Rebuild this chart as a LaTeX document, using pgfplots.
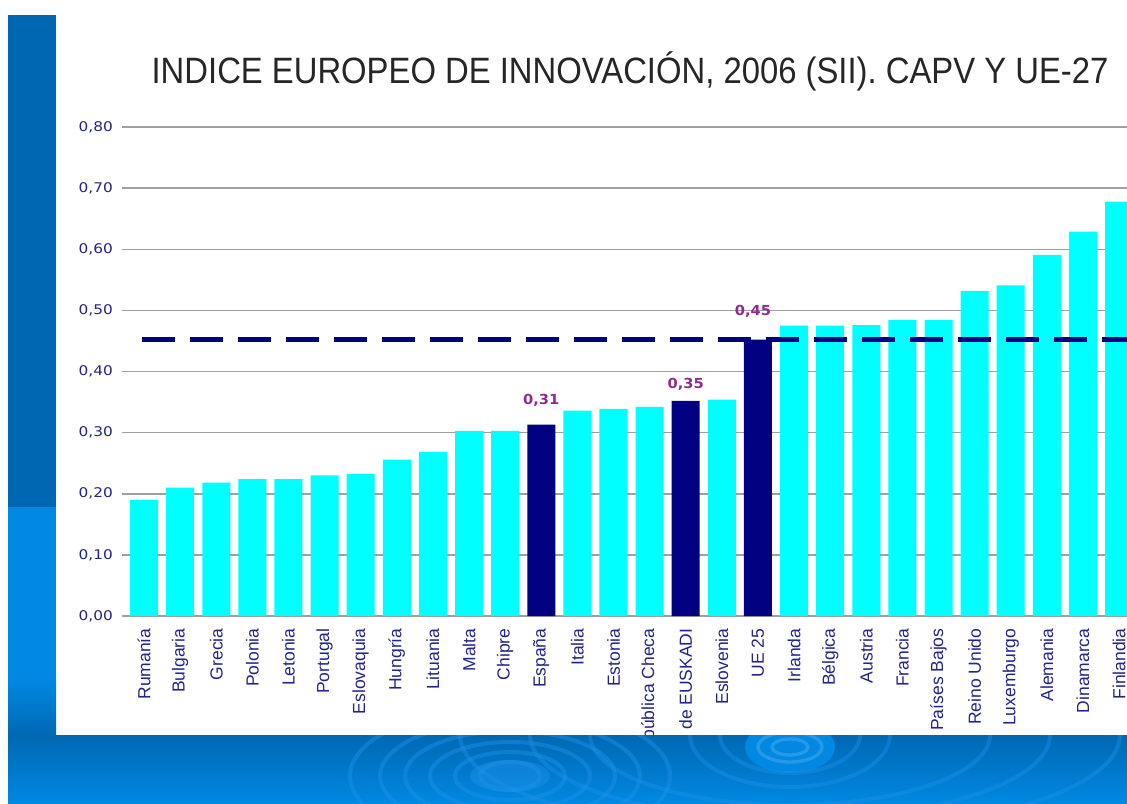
\documentclass[border=0pt]{standalone}
\usepackage{pgfplots}
\pgfplotsset{compat=1.18}
\usepackage{pgfplotstable}
\usepackage{fontspec}
\setmainfont{Liberation Sans}
\newfontfamily\titlefont[FakeStretch=0.895]{Liberation Sans}
\newfontfamily\tickfont[FakeStretch=1.15]{DejaVu Sans}
\newfontfamily\valfont[FakeStretch=1.06]{DejaVu Sans}

\definecolor{barcyan}{HTML}{00FFFF}
\definecolor{barnavy}{HTML}{000080}
\definecolor{ticknavy}{HTML}{24248A}
\definecolor{vallab}{HTML}{8E2C8E}
\definecolor{gridgray}{HTML}{A0A0A0}
\definecolor{stripdark}{HTML}{0068B2}
\definecolor{striplight}{HTML}{0088E2}
\definecolor{ringblue}{HTML}{1E92EA}

\pgfplotstableread{
x y
0 0.190
1 0.210
2 0.218
3 0.224
4 0.224
5 0.230
6 0.232
7 0.256
8 0.268
9 0.303
10 0.303
12 0.336
13 0.339
14 0.342
16 0.354
18 0.475
19 0.475
20 0.476
21 0.484
22 0.484
23 0.532
24 0.541
25 0.591
26 0.629
27 0.678
}\cyandata

\pgfplotstableread{
x y lab dx dy
11 0.313 0,31 0 10.8
15 0.352 0,35 0 6
17 0.452 0,45 -3 13.2
}\navydata

\begin{document}
\begin{tikzpicture}
\useasboundingbox (0,0) rectangle (676.2pt,481.8pt);
\clip (0,0) rectangle (676.2pt,481.8pt);
\fill[white] (0,0) rectangle (676.2pt,481.8pt);
\begin{scope}[x=0.6pt, y=-0.6pt, shift={(0pt,481.8pt)}]
  \fill[stripdark] (8,15) rectangle (56,507);
  \fill[striplight] (8,507) rectangle (56,680);
  \shade[top color=striplight, bottom color=stripdark] (8,680) rectangle (56,736);
\end{scope}

\begin{axis}[
  at={(73.2pt,112.2pt)}, anchor=south west,
  scale only axis, width=603pt, height=293.4pt,
  xmin=-0.61, xmax=27.22, ymin=0, ymax=0.8,
  axis line style={draw=none},
  major tick length=0pt,
  ytick={0,0.1,0.2,0.3,0.4,0.5,0.6,0.7,0.8},
  scaled y ticks=false,
  ymajorgrids,
  major grid style={gridgray, line width=0.9pt},
  xtick={0,1,...,27},
  xticklabels={Rumanía,Bulgaria,Grecia,Polonia,Letonia,Portugal,Eslovaquia,Hungría,Lituania,Malta,Chipre,España,Italia,Estonia,República Checa,C.A. de EUSKADI,Eslovenia,UE 25,Irlanda,Bélgica,Austria,Francia,Países Bajos,Reino Unido,Luxemburgo,Alemania,Dinamarca,Finlandia},
  xticklabel style={rotate=90, anchor=east, font=\fontsize{10.5}{12}\selectfont, text=ticknavy},
  xticklabel shift=4pt,
  yticklabel style={font=\tickfont\fontsize{8}{10}\selectfont, text=ticknavy,
    /pgf/number format/.cd, use comma, fixed, fixed zerofill, precision=2, assume math mode=true},
  yticklabel shift=2pt,
]
\addplot[ybar, bar width=16.8pt, bar shift=0pt, fill=barcyan, draw=none] table[x=x,y=y] {\cyandata};
\addplot[ybar, bar width=16.8pt, bar shift=0pt, fill=barnavy, draw=none,
  point meta=explicit symbolic,
  visualization depends on={\thisrow{dx} \as \ldx},
  visualization depends on={\thisrow{dy} \as \ldy},
  nodes near coords,
  every node near coord/.append style={anchor=south, inner sep=0pt, xshift=\ldx pt, yshift=\ldy pt,
    text=vallab, font=\valfont\bfseries\fontsize{8.3}{10}\selectfont}]
  table[x=x,y=y,meta=lab] {\navydata};
\addplot[barnavy, line width=3pt, dash pattern=on 19.8pt off 9pt] coordinates {(-0.056,0.453) (27.6,0.453)};
\end{axis}

\begin{scope}[x=0.6pt, y=-0.6pt, shift={(0pt,481.8pt)}]
  \shade[top color=stripdark, bottom color=striplight] (8,735) rectangle (1127,803);
  \begin{scope}
    \clip (8,735) rectangle (1127,803);
    \foreach \r/\s in {30/14,55/24,80/34,105/45,130/56,160/70}{
      \draw[ringblue, line width=2.4pt, opacity=0.45] (510,776) ellipse ({\r} and {\s});
    }
    \fill[ringblue, opacity=0.45] (510,776) ellipse (40 and 16);
    \fill[striplight] (790,747) ellipse (45 and 26);
    \foreach \r/\s in {18/8,32/15}{
      \draw[ringblue!80!white, line width=2pt, opacity=0.5] (790,747) ellipse ({\r} and {\s});
    }
    \foreach \r/\s in {70/38,100/52,200/70,260/85,330/100}{
      \draw[ringblue, line width=2.4pt, opacity=0.4] (790,735) ellipse ({\r} and {\s});
    }
  \end{scope}
  \node[font=\titlefont\fontsize{22}{26}\selectfont, text=black!85] at (630,71) {INDICE EUROPEO DE INNOVACIÓN, 2006 (SII). CAPV Y UE-27};
\end{scope}
\end{tikzpicture}
\end{document}
